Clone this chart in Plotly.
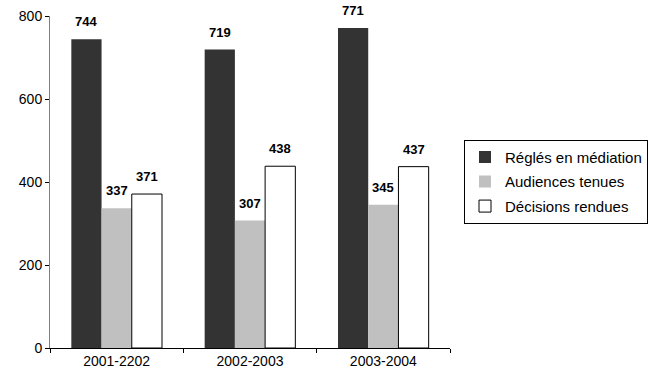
import plotly.graph_objects as go

categories = ["2001-2202", "2002-2003", "2003-2004"]
regles = [744, 719, 771]
audiences = [337, 307, 345]
decisions = [371, 438, 437]
series_names = ["Réglés en médiation", "Audiences tenues", "Décisions rendues"]
series_values = [regles, audiences, decisions]
colors = ["#333333", "#C0C0C0", "#FFFFFF"]
line_widths = [0, 0, 1]

FONT = "Liberation Sans, Arial"

fig = go.Figure()
for i, (name, vals) in enumerate(zip(series_names, series_values)):
    fig.add_trace(go.Bar(x=categories, y=vals, name=name, legendgroup=name,
                         marker=dict(color=colors[i], line=dict(color="#000000", width=line_widths[i]))))

# data labels placed from the data values, shifted to each bar of the group
bar_px = 400 / 3 * 0.68 / 3
for i, vals in enumerate(series_values):
    for cat, v in zip(categories, vals):
        fig.add_annotation(x=cat, y=v, text=f"<b>{v}</b>", showarrow=False,
                           xref="x", yref="y", xanchor="center", yanchor="bottom",
                           xshift=(i - 1) * bar_px, yshift=8,
                           font=dict(family=FONT, size=13, color="#000000"))

fig.update_layout(
    width=648, height=379,
    margin=dict(l=50, r=198, t=16, b=31, autoexpand=False),
    paper_bgcolor="white", plot_bgcolor="white",
    barmode="group", bargap=0.32, bargroupgap=0,
    font=dict(family=FONT, size=14, color="#000000"),
    showlegend=True,
    legend=dict(x=1.035, y=0.627, xanchor="left", yanchor="top",
                bordercolor="#000000", borderwidth=1, itemwidth=30,
                font=dict(size=15), tracegroupgap=2),
    xaxis=dict(showline=True, linecolor="#000000", linewidth=1, automargin=False,
               ticks="outside", tickson="boundaries", ticklen=4, tickcolor="#000000",
               showgrid=False, tickfont=dict(size=14)),
    yaxis=dict(range=[0, 800], dtick=200, showline=True, linecolor="#808080", linewidth=1,
               automargin=False,
               ticks="outside", ticklen=4, tickcolor="#000000", showgrid=False,
               zeroline=False, tickfont=dict(size=14)),
)

fig.write_html("out.html")
